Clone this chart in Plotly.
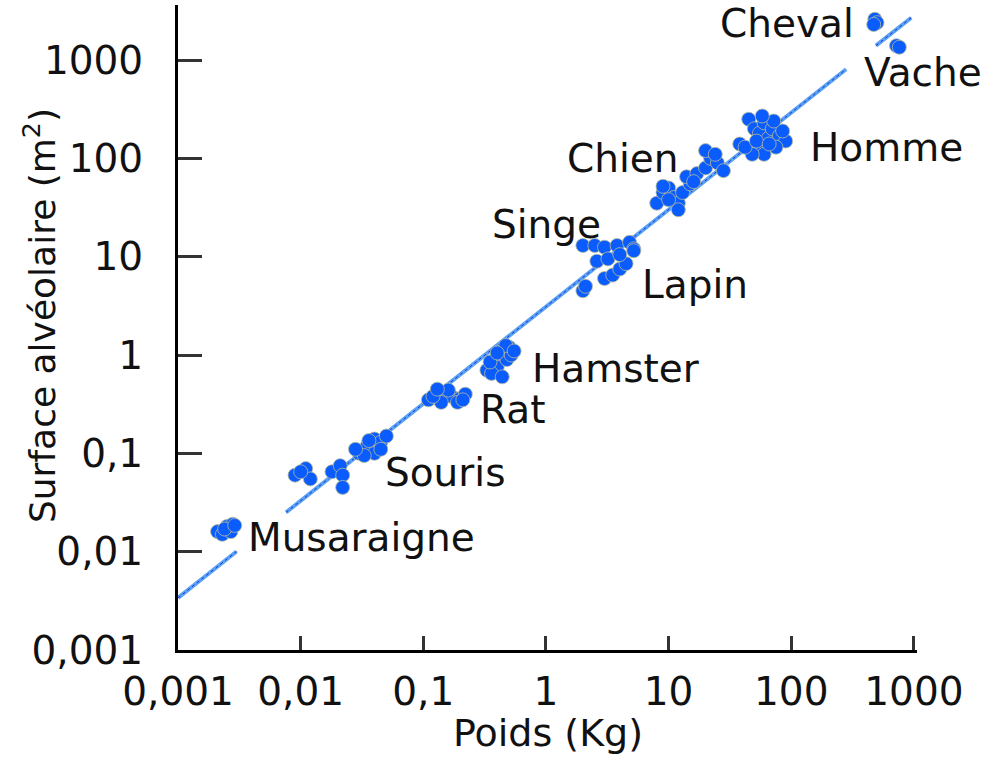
import plotly.graph_objects as go
import numpy as np

# ---- data (kg, m^2) ----
musaraigne_x = [0.0021, 0.0023, 0.0025, 0.0028, 0.0027, 0.0024, 0.0029]
musaraigne_y = [0.016, 0.015, 0.018, 0.019, 0.016, 0.017, 0.0185]

souris_x = [0.009, 0.011, 0.012, 0.010, 0.018, 0.021, 0.022, 0.022, 0.030, 0.035, 0.040, 0.045, 0.050, 0.040, 0.033, 0.028, 0.045, 0.036]
souris_y = [0.060, 0.070, 0.055, 0.065, 0.065, 0.075, 0.060, 0.045, 0.100, 0.120, 0.140, 0.130, 0.150, 0.100, 0.095, 0.110, 0.110, 0.135]

rat_x = [0.11, 0.13, 0.15, 0.17, 0.20, 0.22, 0.14, 0.12, 0.19, 0.16, 0.13, 0.21]
rat_y = [0.35, 0.40, 0.42, 0.38, 0.36, 0.40, 0.33, 0.38, 0.33, 0.44, 0.45, 0.35]

hamster_x = [0.33, 0.38, 0.42, 0.45, 0.50, 0.40, 0.48, 0.36, 0.52, 0.44, 0.35, 0.47, 0.40, 0.55]
hamster_y = [0.70, 0.80, 0.95, 1.10, 1.20, 0.75, 0.90, 0.65, 1.00, 0.60, 0.85, 1.25, 1.05, 1.10]

singe_x = [2.0, 2.5, 3.0, 3.8, 4.8, 5.2, 2.6]
singe_y = [13.0, 13.0, 12.5, 13.0, 14.0, 12.0, 9.0]

lapin_x = [2.0, 2.1, 3.0, 3.5, 4.0, 4.5, 3.2, 4.0, 5.2]
lapin_y = [4.5, 5.0, 6.0, 6.5, 7.5, 8.5, 9.5, 10.5, 11.5]

chien_x = [8, 9, 10, 11, 12, 13, 15, 14, 17, 20, 22, 25, 20, 28, 12, 10, 9, 16, 24]
chien_y = [35, 45, 50, 40, 35, 45, 55, 65, 70, 80, 100, 90, 120, 75, 30, 38, 52, 58, 110]

homme_x = [38, 45, 50, 55, 60, 65, 70, 80, 90, 55, 60, 75, 48, 42, 85, 52, 66, 72, 58]
homme_y = [140, 250, 200, 180, 230, 160, 200, 170, 150, 120, 110, 130, 110, 130, 190, 150, 140, 240, 270]

cheval_x = [480, 500, 470]
cheval_y = [2600, 2400, 2300]

vache_x = [720, 760]
vache_y = [1400, 1350]

# regression (allometric fit y = a * x^b), drawn in segments
fit_a = 3.1
fit_b = 0.987
fit_x = [0.001, 0.0030, None, 0.0076, 280, None, 490, 950]

labels = ["Cheval", "Vache", "Homme", "Chien", "Singe", "Lapin", "Hamster", "Rat", "Souris", "Musaraigne"]
label_x = [25.2, 376, 136, 1.43, 0.35, 5.8, 0.74, 0.279, 0.0469, 0.00358]
label_y = [2380, 755, 130, 100, 21.4, 5.24, 0.73, 0.279, 0.0637, 0.0139]

tick_vals = [0.001, 0.01, 0.1, 1, 10, 100, 1000]
tick_text = ["0,001", "0,01", "0,1", "1", "10", "100", "1000"]

# ---- figure ----
FONT = "DejaVu Sans"
fig = go.Figure()

fit_y = [None if v is None else fit_a * v ** fit_b for v in fit_x]
fig.add_trace(go.Scatter(x=fit_x, y=fit_y, mode="lines", connectgaps=False,
                         line=dict(color="#5aa2f2", width=4), hoverinfo="skip"))
fig.add_trace(go.Scatter(x=fit_x, y=fit_y, mode="lines", connectgaps=False,
                         line=dict(color="#1a2fe0", width=1, dash="dot"), hoverinfo="skip"))

all_x = musaraigne_x + souris_x + rat_x + hamster_x + singe_x + lapin_x + chien_x + homme_x + cheval_x + vache_x
all_y = musaraigne_y + souris_y + rat_y + hamster_y + singe_y + lapin_y + chien_y + homme_y + cheval_y + vache_y
fig.add_trace(go.Scatter(x=all_x, y=all_y, mode="markers",
                         marker=dict(color="#0a5cff", size=14,
                                     line=dict(color="#b8bc98", width=0.8))))

for t, lx, ly in zip(labels, label_x, label_y):
    fig.add_annotation(x=np.log10(lx), y=np.log10(ly), text=t, showarrow=False,
                       xanchor="left", yanchor="middle",
                       font=dict(family=FONT, size=39, color="#111111"))

# axis titles
fig.add_annotation(xref="paper", yref="paper", x=0.5, y=-0.128, text="Poids (Kg)",
                   showarrow=False, xanchor="center", yanchor="middle",
                   font=dict(family=FONT, size=38, color="#111111"))
fig.add_annotation(xref="paper", yref="paper", x=-0.187, y=0.519,
                   text="Surface alvéolaire (m<sup>2</sup>)", textangle=-90,
                   showarrow=False, xanchor="center", yanchor="middle",
                   font=dict(family=FONT, size=36, color="#111111"))

fig.update_xaxes(type="log", range=[-3, 3.025], tickvals=tick_vals, ticktext=tick_text,
                 ticks="inside", ticklen=14, tickwidth=3, tickcolor="#333333",
                 showline=True, linecolor="black", linewidth=3,
                 showgrid=False, zeroline=False, ticklabelstandoff=5,
                 tickfont=dict(family=FONT, size=39, color="#111111"))
fig.update_yaxes(type="log", range=[-3, 3.56], tickvals=tick_vals, ticktext=tick_text,
                 ticks="inside", ticklen=24, tickwidth=3, tickcolor="#333333",
                 showline=True, linecolor="black", linewidth=3,
                 showgrid=False, zeroline=False, ticklabelstandoff=24,
                 tickfont=dict(family=FONT, size=39, color="#111111"))

fig.update_layout(width=994, height=761, showlegend=False,
                  paper_bgcolor="white", plot_bgcolor="white",
                  margin=dict(l=178, r=77, t=5, b=111))
fig.update_xaxes(automargin=False)
fig.update_yaxes(automargin=False)

fig.write_html("out.html")
